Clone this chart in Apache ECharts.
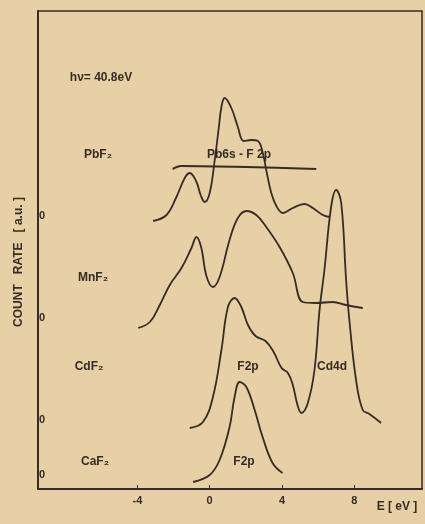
<!DOCTYPE html>
<html>
<head>
<meta charset="utf-8">
<script src="https://cdn.jsdelivr.net/npm/echarts@6/dist/echarts.min.js"></script>
<style>
html, body { margin: 0; padding: 0; background: #e7cfa6; }
#main { width: 425px; height: 524px; }
</style>
</head>
<body>
<div id="main"></div>
<script>
// spectra: energy (eV) and count rate (a.u., stacked with offsets)
var pbE = [-3.13, -2.39, -1.84, -1.38, -1.10, -0.73, -0.50, -0.28, 0, 0.28, 0.51, 0.65, 0.83, 1.20, 1.56, 1.88, 2.30, 2.67, 2.94, 3.13, 3.41, 3.69, 4.05, 4.60, 5.25, 5.71, 6.26, 6.63];
var pbY = [268, 274, 292, 311, 316, 307, 294, 287, 296, 329, 362, 382, 391, 381, 362, 348, 349, 348, 336, 319, 296, 283, 276, 281, 285, 281, 274, 272];

var mnE = [-3.96, -3.31, -2.76, -2.21, -1.56, -1.01, -0.73, -0.46, -0.18, 0.18, 0.55, 1.10, 1.56, 2.03, 2.58, 3.13, 3.87, 4.60, 5.15, 5.90, 6.81, 7.55, 8.47];
var mnY = [161, 167, 184, 204, 221, 241, 252, 241, 213, 202, 212, 249, 271, 278, 274, 262, 242, 216, 187, 186, 187, 184, 181];

var cdE = [-1.10, -0.37, 0.18, 0.65, 1.01, 1.38, 1.75, 2.12, 2.54, 3.09, 3.54, 3.98, 4.33, 4.60, 4.86, 5.07, 5.43, 5.80, 6.08, 6.35, 6.72, 7.00, 7.28, 7.55, 7.73, 8.10, 8.47, 8.84, 9.49];
var cdY = [61, 67, 92, 139, 182, 191, 182, 164, 153, 148, 137, 121, 116, 104, 84, 76, 86, 119, 179, 219, 282, 299, 286, 209, 169, 109, 79, 75, 66];

var caE = [-0.92, 0, 0.55, 1.10, 1.38, 1.66, 2.03, 2.49, 2.93, 3.48, 4.03];
var caY = [7, 14, 29, 62, 92, 107, 102, 79, 52, 26, 16];

// Pb6s - F2p baseline drawn across the PbF2 curve
var barE = [-2.05, -1.6, 2.0, 5.9];
var barY = [320, 323, 322, 320];

var zeroLevels = [14, 69, 171, 273];
var xTicks = [-4, 0, 4, 8];

function pairs(e, y) {
    return e.map(function (v, i) { return [v, y[i]]; });
}

var ink = '#352c24';
var font = 'bold 12px "Liberation Sans", Arial, sans-serif';

function txt(s, x, y, extra) {
    var o = {
        type: 'text', x: x, y: y, z: 10,
        style: { text: s, font: font, fill: ink, textAlign: 'center', textVerticalAlign: 'middle' }
    };
    if (extra) { for (var k in extra) o[k] = extra[k]; }
    return o;
}

var myChart = echarts.init(document.getElementById('main'));

var lineStyle = { color: ink, width: 1.8 };

var option = {
    backgroundColor: '#e7cfa6',
    animation: false,
    grid: {
        left: 38, right: 3, top: 11, bottom: 35,
        show: true, borderColor: ink, borderWidth: 1.5
    },
    xAxis: {
        type: 'value', min: -9.5, max: 11.75,
        splitLine: { show: false },
        axisLine: { lineStyle: { color: ink, width: 2 } },
        axisTick: { inside: true, length: 4, customValues: xTicks, lineStyle: { color: ink } },
        axisLabel: { customValues: xTicks, color: ink, fontWeight: 'bold', fontSize: 11, margin: 6,
            fontFamily: 'Liberation Sans' }
    },
    yAxis: {
        type: 'value', min: 0, max: 478,
        splitLine: { show: false },
        axisLine: { show: true, onZero: false, lineStyle: { color: ink, width: 2 } },
        axisTick: { show: false },
        axisLabel: { customValues: zeroLevels, inside: true, margin: 1, formatter: function () { return '0'; },
            color: ink, fontWeight: 'bold', fontSize: 11, fontFamily: 'Liberation Sans' }
    },
    series: [
        { name: 'PbF2', type: 'line', smooth: 0.4, symbol: 'none', lineStyle: lineStyle, data: pairs(pbE, pbY) },
        { name: 'MnF2', type: 'line', smooth: 0.4, symbol: 'none', lineStyle: lineStyle, data: pairs(mnE, mnY) },
        { name: 'CdF2', type: 'line', smooth: 0.4, symbol: 'none', lineStyle: lineStyle, data: pairs(cdE, cdY) },
        { name: 'CaF2', type: 'line', smooth: 0.4, symbol: 'none', lineStyle: lineStyle, data: pairs(caE, caY) },
        { name: 'Pb6s-F2p', type: 'line', smooth: 0.3, symbol: 'none', lineStyle: { color: ink, width: 2 }, data: pairs(barE, barY) }
    ],
    graphic: [
        txt('h\u03bd= 40.8eV', 101, 78),
        txt('PbF\u2082', 98, 155),
        txt('Pb6s - F 2p', 239, 155),
        txt('MnF\u2082', 93, 278),
        txt('CdF\u2082', 89, 367),
        txt('F2p', 248, 367),
        txt('Cd4d', 332, 367),
        txt('CaF\u2082', 95, 462),
        txt('F2p', 244, 462),
        txt('E [ eV ]', 397, 507),
        txt('COUNT   RATE   [ a.u. ]', 19, 262, { rotation: Math.PI / 2 })
    ]
};

myChart.setOption(option);
</script>
</body>
</html>
